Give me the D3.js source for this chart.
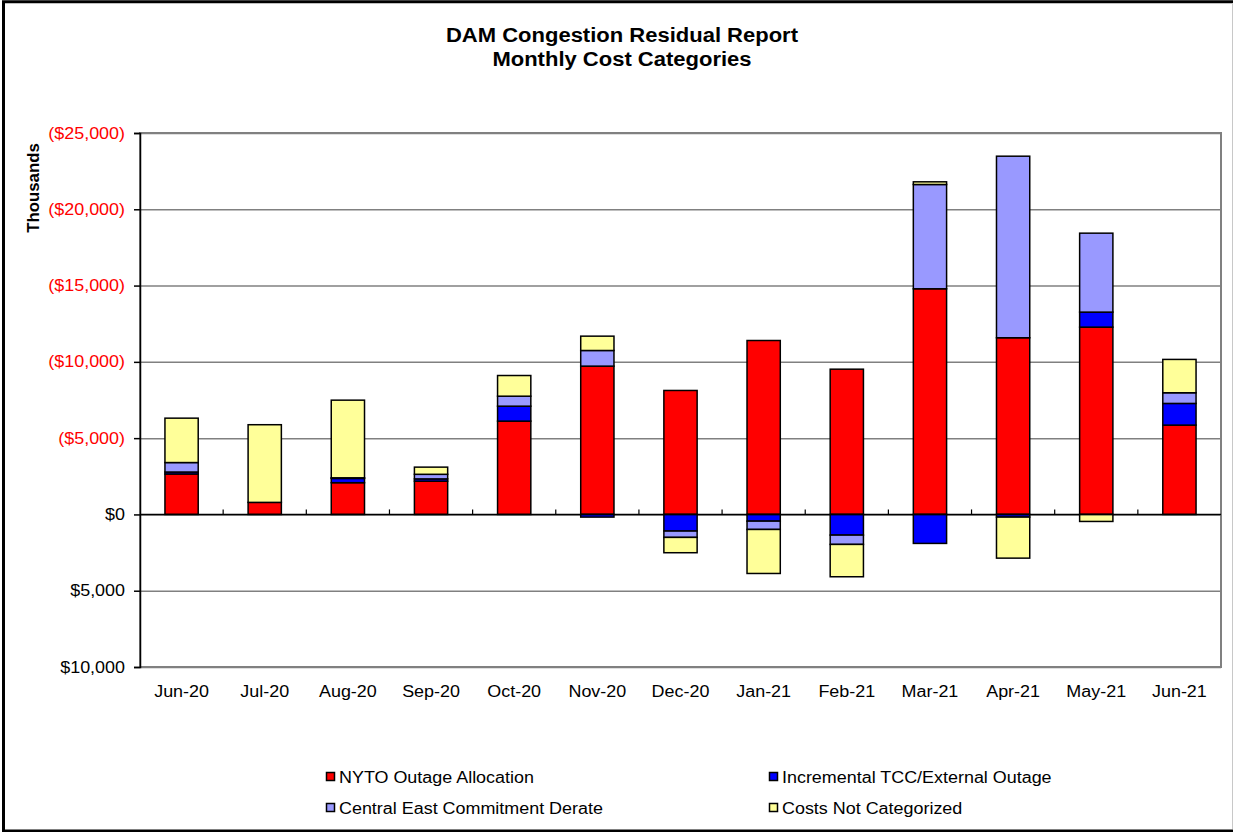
<!DOCTYPE html>
<html>
<head>
<meta charset="utf-8">
<script src="https://cdn.jsdelivr.net/npm/d3@7"></script>
<style>
  html, body { margin: 0; padding: 0; background: #fff; }
  svg { display: block; font-family: "Liberation Sans", Arial, sans-serif; }
</style>
</head>
<body>
<svg id="chart" width="1233" height="832"></svg>
<script>
// Monthly DAM congestion residual, in thousands of dollars.
// Negative values are costs (shown upward, in parentheses).
const months = ["Jun-20", "Jul-20", "Aug-20", "Sep-20", "Oct-20", "Nov-20", "Dec-20",
                "Jan-21", "Feb-21", "Mar-21", "Apr-21", "May-21", "Jun-21"];
const nytoOutage     = [-2650, -790, -2080, -2180, -6115, -9720, -8125, -11400, -9520, -14790, -11580, -12275, -5855];
const incrementalTcc = [-130, 0, -280, -150, -980, 175, 1090, 440, 1355, 1900, 175, -985, -1420];
const centralEast    = [-620, 0, -40, -300, -655, -1025, 415, 545, 610, -6835, -11900, -5175, -700];
const notCategorized = [-2910, -5090, -5090, -470, -1355, -940, 1005, 2885, 2120, -175, 2690, 460, -2185];
const seriesNames = ["NYTO Outage Allocation", "Incremental TCC/External Outage",
                     "Central East Commitment Derate", "Costs Not Categorized"];
const yTicks = [-25000, -20000, -15000, -10000, -5000, 0, 5000, 10000];

const colors = ["#FF0000", "#0000FF", "#9999FF", "#FFFF99"];
const keys = ["nyto", "inc", "ce", "nc"];
const rows = months.map((m, i) => ({
  month: m, nyto: nytoOutage[i], inc: incrementalTcc[i], ce: centralEast[i], nc: notCategorized[i]
}));

const svg = d3.select("#chart");
const STRETCH = 1.12;
// widen text horizontally like the original export
function stretch(sel, f) {
  sel.each(function () {
    const w = this.getComputedTextLength();
    d3.select(this).attr("textLength", w * (f || STRETCH)).attr("lengthAdjust", "spacingAndGlyphs");
  });
}

// outer frame
svg.append("rect").attr("x", 3.5).attr("y", 1.75).attr("width", 1300).attr("height", 829.25)
  .attr("fill", "#fff").attr("stroke", "#000").attr("stroke-width", 3);
svg.append("line").attr("x1", 1232.5).attr("x2", 1232.5).attr("y1", 3).attr("y2", 829)
  .attr("stroke", "#c8c8c8").attr("stroke-width", 1);

const plot = { left: 140, right: 1221, top: 133, bottom: 667 };
const x = d3.scaleBand().domain(months).range([plot.left, plot.right]).paddingInner(0.6).paddingOuter(0.3);
const xb = d3.scaleBand().domain(months).range([plot.left, plot.right]);
const y = d3.scaleLinear().domain([-25000, 10000]).range([plot.top, plot.bottom]);

// gridlines
const grid = svg.append("g").attr("class", "grid")
  .attr("transform", `translate(${plot.left},0)`)
  .call(d3.axisLeft(y).tickValues(yTicks).tickSize(-(plot.right - plot.left)).tickFormat(""));
grid.select(".domain").remove();
grid.selectAll("line").attr("stroke", "#808080").attr("stroke-width", 1.5);

// plot border
svg.append("rect").attr("x", plot.left).attr("y", plot.top)
  .attr("width", plot.right - plot.left).attr("height", plot.bottom - plot.top)
  .attr("fill", "none").attr("stroke", "#808080").attr("stroke-width", 2);

// stacked bars
const stack = d3.stack().keys(keys).offset(d3.stackOffsetDiverging);
const layers = stack(rows);
svg.append("g").selectAll("g").data(layers).join("g")
  .attr("fill", (d, i) => colors[i])
  .selectAll("rect").data(d => d.filter(s => s[0] !== s[1])).join("rect")
  .attr("x", d => x(d.data.month))
  .attr("width", x.bandwidth())
  .attr("y", d => Math.min(y(d[0]), y(d[1])))
  .attr("height", d => Math.abs(y(d[1]) - y(d[0])))
  .attr("stroke", "#000").attr("stroke-width", 1.5);

// y axis
const yAxis = svg.append("g").attr("transform", `translate(${plot.left},0)`)
  .call(d3.axisLeft(y).tickValues(yTicks).tickSize(6).tickPadding(9)
    .tickFormat(v => v < 0 ? `($${d3.format(",")(-v)})` : `$${d3.format(",")(v)}`));
yAxis.select(".domain").attr("stroke", "#000").attr("stroke-width", 1.5);
yAxis.selectAll(".tick line").attr("stroke", "#000").attr("stroke-width", 1.5);
yAxis.selectAll("text")
  .attr("font-size", 16).attr("font-family", "Liberation Sans, Arial, sans-serif")
  .attr("fill", d => d < 0 ? "#FF0000" : "#000")
  .call(stretch);

// zero axis with category ticks
svg.append("line").attr("x1", plot.left).attr("x2", plot.right)
  .attr("y1", y(0)).attr("y2", y(0)).attr("stroke", "#000").attr("stroke-width", 1.5);
svg.append("g").selectAll("line").data(months.slice(1)).join("line")
  .attr("x1", d => xb(d)).attr("x2", d => xb(d))
  .attr("y1", y(0)).attr("y2", y(0) - 5)
  .attr("stroke", "#000").attr("stroke-width", 1.2);

// category labels
svg.append("g").selectAll("text").data(months).join("text")
  .attr("x", d => xb(d) + xb.bandwidth() / 2)
  .attr("y", 697)
  .attr("text-anchor", "middle").attr("font-size", 16).attr("fill", "#000")
  .text(d => d)
  .call(stretch);

// title
const title = svg.append("g").attr("font-weight", "bold").attr("font-size", 20).attr("text-anchor", "middle");
title.append("text").attr("x", 622).attr("y", 42).text("DAM Congestion Residual Report").call(stretch, 1.1);
title.append("text").attr("x", 622).attr("y", 66).text("Monthly Cost Categories").call(stretch, 1.1);

// y axis title
svg.append("text")
  .attr("transform", "translate(39,188) rotate(-90)")
  .attr("text-anchor", "middle").attr("font-weight", "bold").attr("font-size", 16)
  .text("Thousands").call(stretch, 1.05);

// legend
const legendPos = [[326, 777], [769, 777], [326, 808], [769, 808]];
const legend = svg.append("g").selectAll("g").data(seriesNames).join("g")
  .attr("transform", (d, i) => `translate(${legendPos[i][0]},${legendPos[i][1]})`);
legend.append("rect").attr("x", 0.5).attr("y", -4.5).attr("width", 8).attr("height", 8)
  .attr("fill", (d, i) => colors[i]).attr("stroke", "#000").attr("stroke-width", 1.5);
legend.append("text").attr("x", 13).attr("y", 6).attr("font-size", 16).text(d => d).call(stretch);
</script>
</body>
</html>
